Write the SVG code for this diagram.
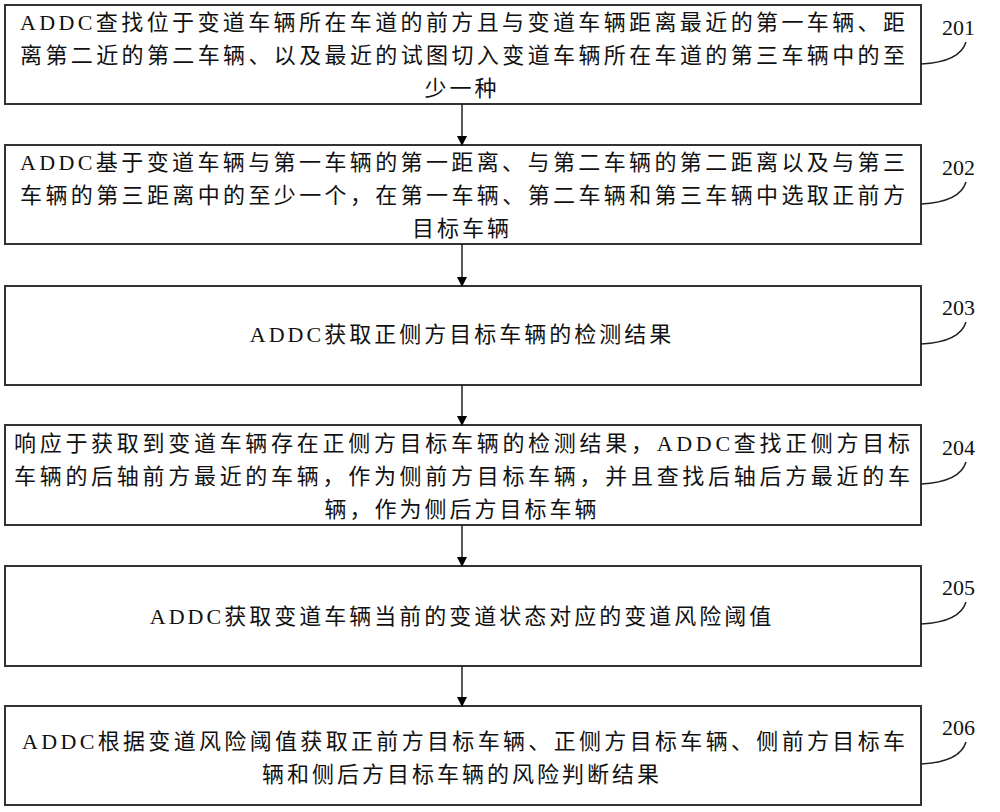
<svg xmlns="http://www.w3.org/2000/svg" width="1000" height="812" viewBox="0 0 1000 812">
<defs>
<marker id="ah" markerWidth="10" markerHeight="12" refX="9" refY="5" orient="auto" markerUnits="userSpaceOnUse"><path d="M0,0 L10,5 L0,10 Z" fill="#000"/></marker>
<style>
rect{fill:#fff;stroke:#333;stroke-width:2}
text{font-family:"Liberation Serif","Noto Sans CJK SC",serif;font-size:22px;fill:#111}
.n{font-size:22px}
.c{text-anchor:middle;letter-spacing:3px}
.l{fill:none;stroke:#222;stroke-width:1.5}
</style>
</defs>
<rect width="1000" height="812" fill="#fff" style="stroke:none"/>
<g id="n201"><rect x="5" y="5" width="916" height="99"/>
<text x="20" y="30" textLength="885" lengthAdjust="spacing">ADDC查找位于变道车辆所在车道的前方且与变道车辆距离最近的第一车辆、距</text>
<text x="20" y="63" textLength="885" lengthAdjust="spacing">离第二近的第二车辆、以及最近的试图切入变道车辆所在车道的第三车辆中的至</text>
<text x="462" y="96" class="c">少一种</text>
<text x="942" y="35" class="n">201</text><path class="l" d="M921,64 Q960,62 966,42"/></g>
<g id="n202"><rect x="5" y="145" width="916" height="99"/>
<text x="20" y="170" textLength="885" lengthAdjust="spacing">ADDC基于变道车辆与第一车辆的第一距离、与第二车辆的第二距离以及与第三</text>
<text x="20" y="203" textLength="885" lengthAdjust="spacing">车辆的第三距离中的至少一个，在第一车辆、第二车辆和第三车辆中选取正前方</text>
<text x="462" y="236" class="c">目标车辆</text>
<text x="942" y="175" class="n">202</text><path class="l" d="M921,204 Q960,202 966,182"/></g>
<g id="n203"><rect x="5" y="286" width="916" height="99"/>
<text x="462" y="342" class="c">ADDC获取正侧方目标车辆的检测结果</text>
<text x="942" y="315" class="n">203</text><path class="l" d="M921,344 Q960,342 966,322"/></g>
<g id="n204"><rect x="5" y="425" width="916" height="100"/>
<text x="14" y="451" textLength="896" lengthAdjust="spacing">响应于获取到变道车辆存在正侧方目标车辆的检测结果，ADDC查找正侧方目标</text>
<text x="14" y="484" textLength="896" lengthAdjust="spacing">车辆的后轴前方最近的车辆，作为侧前方目标车辆，并且查找后轴后方最近的车</text>
<text x="462" y="517" class="c">辆，作为侧后方目标车辆</text>
<text x="942" y="455" class="n">204</text><path class="l" d="M921,484 Q960,482 966,462"/></g>
<g id="n205"><rect x="5" y="566" width="916" height="100"/>
<text x="462" y="624" class="c">ADDC获取变道车辆当前的变道状态对应的变道风险阈值</text>
<text x="942" y="595" class="n">205</text><path class="l" d="M921,624 Q960,622 966,602"/></g>
<g id="n206"><rect x="5" y="706" width="916" height="99"/>
<text x="22" y="749" textLength="883" lengthAdjust="spacing">ADDC根据变道风险阈值获取正前方目标车辆、正侧方目标车辆、侧前方目标车</text>
<text x="462" y="782" class="c">辆和侧后方目标车辆的风险判断结果</text>
<text x="942" y="735" class="n">206</text><path class="l" d="M921,764 Q960,762 966,742"/></g>
<g id="connectors" stroke="#222" stroke-width="1.5" fill="none">
<line x1="462" y1="104" x2="462" y2="145" marker-end="url(#ah)"/>
<line x1="462" y1="244" x2="462" y2="286" marker-end="url(#ah)"/>
<line x1="462" y1="385" x2="462" y2="425" marker-end="url(#ah)"/>
<line x1="462" y1="525" x2="462" y2="566" marker-end="url(#ah)"/>
<line x1="462" y1="666" x2="462" y2="706" marker-end="url(#ah)"/>
</g>
</svg>
